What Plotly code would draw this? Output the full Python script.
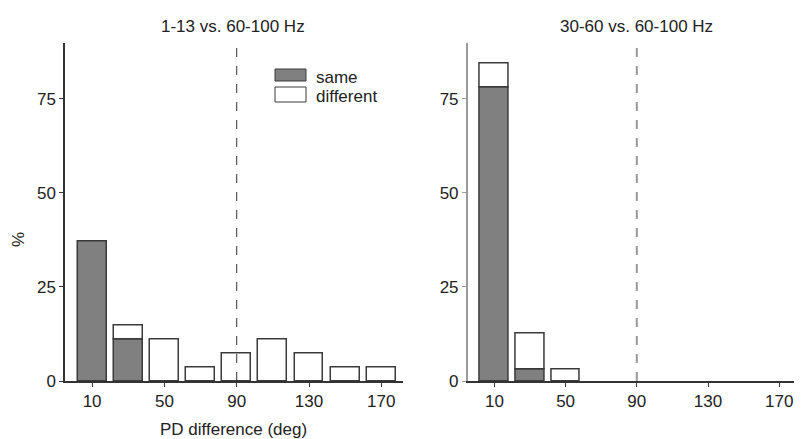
import plotly.graph_objects as go

# ---- data ----
bins = [10, 30, 50, 70, 90, 110, 130, 150, 170]
left_same = [37.0, 11.1, 0, 0, 0, 0, 0, 0, 0]
left_diff = [0, 3.7, 11.1, 3.7, 7.4, 11.1, 7.4, 3.7, 3.7]
right_same = [78.1, 3.1, 0, 0, 0, 0, 0, 0, 0]
right_diff = [6.3, 9.4, 3.1, 0, 0, 0, 0, 0, 0]
x_ticks = [10, 50, 90, 130, 170]
y_ticks = [0, 25, 50, 75]
titles = ["1-13 vs. 60-100 Hz", "30-60 vs. 60-100 Hz"]
series_names = ["same", "different"]

# page body has an 8px margin: figure fills the rest of the 802x439 window
OFF = 8
W, H = 802 - OFF, 439 - OFF

def px(x):
    return (x - OFF) / W

def py(y):
    return 1 - (y - OFF) / H

FONT = "Liberation Sans, Arial, Helvetica, sans-serif"
TXT = "#222222"
GRAY = "#808080"
EDGE = "#3a3a3a"

fig = go.Figure()

def add_bar(vals, base, fill, name, xa, ya):
    xs = [b for b, v in zip(bins, vals) if v > 0]
    ys = [v for v in vals if v > 0]
    bs = [s for s, v in zip(base, vals) if v > 0]
    fig.add_trace(go.Bar(x=xs, y=ys, base=bs, width=16, xaxis=xa, yaxis=ya,
                         name=name, showlegend=False,
                         marker=dict(color=fill, line=dict(color=EDGE, width=1.5))))

def add_pair(same, diff, xa, ya):
    add_bar(same, [0] * len(same), GRAY, series_names[0], xa, ya)
    add_bar(diff, same, "white", series_names[1], xa, ya)

add_pair(left_same, left_diff, "x", "y")
add_pair(right_same, right_diff, "x2", "y2")

ydom = [py(381), py(42.5)]
axis_common = dict(showgrid=False, zeroline=False, ticks="outside", ticklen=4,
                   tickwidth=1, tickfont=dict(family=FONT, size=17, color=TXT),
                   showline=True, linewidth=1.5, automargin=False)

fig.update_layout(
    width=W, height=H, barmode="overlay", bargap=0,
    plot_bgcolor="white", paper_bgcolor="white",
    margin=dict(l=0, r=0, t=0, b=0),
    xaxis=dict(domain=[px(65), px(403)], range=[-5, 182], tickvals=x_ticks,
               linecolor="#333333", tickcolor="#333333", anchor="y", **axis_common),
    yaxis=dict(domain=ydom, range=[0, 90], tickvals=y_ticks,
               linecolor="#333333", tickcolor="#333333", anchor="x", **axis_common),
    xaxis2=dict(domain=[px(467.7), 1.0], range=[-5, 182.8], tickvals=x_ticks,
                linecolor="#333333", tickcolor="#333333", anchor="y2", **axis_common),
    yaxis2=dict(domain=ydom, range=[0, 90], tickvals=y_ticks,
                linecolor="#9a9a9a", tickcolor="#9a9a9a", anchor="x2", **axis_common),
    showlegend=False,
)

# dashed reference lines at 90 deg
fig.add_shape(type="line", xref="x", yref="y", x0=90, x1=90, y0=0, y1=89,
              line=dict(color="#333333", width=1, dash="dash"))
fig.add_shape(type="line", xref="x2", yref="y2", x0=90, x1=90, y0=0, y1=89,
              line=dict(color="#999999", width=2, dash="dash"))

# legend patches
fig.add_shape(type="rect", xref="paper", yref="paper",
              x0=px(275), x1=px(306), y0=py(81), y1=py(69),
              fillcolor=GRAY, line=dict(color=EDGE, width=1))
fig.add_shape(type="rect", xref="paper", yref="paper",
              x0=px(275), x1=px(306), y0=py(102), y1=py(87),
              fillcolor="white", line=dict(color=EDGE, width=1))
for name, yc in zip(series_names, [77, 96.5]):
    fig.add_annotation(text=name, xref="paper", yref="paper", x=px(314), y=py(yc),
                       xanchor="left", yanchor="middle", showarrow=False,
                       font=dict(family=FONT, size=17, color=TXT))

# titles
for t, xc in zip(titles, [233, 636.7]):
    fig.add_annotation(text=t, xref="paper", yref="paper", x=px(xc), y=py(26),
                       xanchor="center", yanchor="middle", showarrow=False,
                       font=dict(family=FONT, size=17, color=TXT))

# axis labels
fig.add_annotation(text="%", xref="paper", yref="paper", x=px(18), y=py(240),
                   textangle=-90, xanchor="center", yanchor="middle", showarrow=False,
                   font=dict(family=FONT, size=17, color=TXT))
fig.add_annotation(text="PD difference (deg)", xref="paper", yref="paper",
                   x=px(233), y=py(429), xanchor="center", yanchor="middle",
                   showarrow=False, font=dict(family=FONT, size=17, color=TXT))

fig.write_html("out.html")
